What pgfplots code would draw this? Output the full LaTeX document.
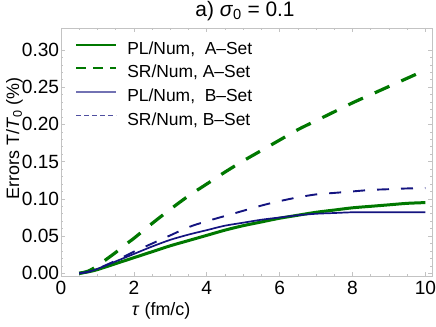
\documentclass[border=0pt]{standalone}
\usepackage{fontspec}
\setmainfont{Liberation Sans}
\usepackage{pgfplots}
\pgfplotsset{compat=1.18}
\definecolor{mgreen}{RGB}{0,120,0}
\definecolor{mblue}{RGB}{20,20,128}
\definecolor{framegray}{RGB}{195,195,195}

\begin{document}
\begin{tikzpicture}
\begin{axis}[
    scale only axis,
    width=371bp, height=248bp,
    xmin=0, xmax=10.18,
    ymin=-0.0036, ymax=0.3295,
    xtick={0,2,4,6,8,10},
    ytick={0,0.05,0.10,0.15,0.20,0.25,0.30},
    minor x tick num=3,
    minor y tick num=4,
    tick align=inside,
    tick pos=both,
    major tick length=4bp,
    minor tick length=2.5bp,
    axis line style={draw=framegray, line width=0.9bp},
    tick style={draw=framegray, line width=0.7bp},
    /pgf/number format/assume math mode=true,
    ticklabel style={font=\fontsize{19.2}{22}\selectfont},
    xticklabel style={inner sep=0bp, yshift=-5bp},
    yticklabel style={inner sep=1.7bp,
        /pgf/number format/.cd, fixed, fixed zerofill, precision=2},
    title={a) \textit{σ}\textsubscript{0} = 0.1},
    title style={at={(axis description cs:0.496,1.024)}, anchor=base,
        font=\fontsize{21}{24}\selectfont},
    xlabel={\textit{τ} (fm/c)},
    xlabel style={at={(axis description cs:0.27,-0.161)}, anchor=base,
        font=\fontsize{18}{21}\selectfont},
    ylabel={Errors T/\textit{T}\textsubscript{0} (\%)},
    ylabel style={at={(axis description cs:-0.113,0.554)}, anchor=base,
        font=\fontsize{18}{21}\selectfont},
    legend cell align=left,
    legend image code/.code={\draw[#1] (0bp,5bp) -- (40bp,5bp);},
    legend style={draw=none, fill=none, inner sep=0bp,
        at={(axis description cs:0.038,0.9435)}, anchor=north west,
        font=\fontsize{17.5}{20}\selectfont,
        nodes={inner sep=0bp, text height=12bp, text depth=3bp},
        row sep=8.6bp, column sep=10bp},
]
\addlegendimage{mgreen, line width=1.6bp}
\addlegendimage{mgreen, line width=2bp, dash pattern=on 10bp off 7bp}
\addlegendimage{mblue!60!white, line width=2bp}
\addlegendimage{mblue!75!white, line width=0.9bp, dash pattern=on 5bp off 3bp}

% PL/Num, A-Set
\addplot[mgreen, line width=3bp, smooth] coordinates {
    (0.5,0) (0.75,0.002) (1,0.005) (1.5,0.013) (2,0.021) (2.5,0.029)
    (3,0.037) (3.5,0.044) (4,0.051) (4.5,0.058) (5,0.064) (5.5,0.069)
    (6,0.074) (6.5,0.078) (7,0.082) (7.5,0.085) (8,0.088) (8.5,0.090)
    (9,0.092) (9.5,0.094) (10,0.095)
};
% SR/Num, A-Set
\addplot[mgreen, line width=3.2bp, dash pattern=on 16bp off 13bp, smooth] coordinates {
    (0.5,0) (0.75,0.003) (1,0.010) (1.25,0.019) (1.5,0.028) (1.75,0.038)
    (2,0.047) (2.5,0.067) (3,0.086) (3.5,0.104) (4,0.120) (4.5,0.136)
    (5,0.151) (5.5,0.165) (6,0.179) (6.5,0.193) (7,0.205) (7.5,0.217)
    (8,0.229) (8.5,0.240) (9,0.251) (9.5,0.262) (10,0.273)
};
% PL/Num, B-Set
\addplot[mblue, line width=1.7bp, smooth] coordinates {
    (0.5,0) (0.75,0.002) (1,0.006) (1.5,0.016) (2,0.026) (2.5,0.036)
    (3,0.045) (3.5,0.052) (4,0.058) (4.5,0.064) (5,0.068) (5.5,0.072)
    (6,0.075) (6.5,0.078) (7,0.080) (7.5,0.081) (8,0.082) (8.5,0.082)
    (9,0.082) (9.5,0.082) (10,0.082)
};
% SR/Num, B-Set
\addplot[mblue, line width=1.9bp, dash pattern=on 12bp off 12bp, smooth] coordinates {
    (0.5,0) (0.75,0.002) (1,0.006) (1.5,0.017) (2,0.029) (2.5,0.040)
    (3,0.051) (3.5,0.062) (4,0.070) (4.5,0.077) (5,0.084) (5.5,0.091)
    (6,0.097) (6.5,0.102) (7,0.106) (7.5,0.108) (8,0.110) (8.5,0.112)
    (9,0.113) (9.5,0.114) (10,0.1145)
};
\legend{{PL/Num,\ \ A--Set}, {SR/Num, A--Set}, {PL/Num,\ \ B--Set}, {SR/Num, B--Set}}
\end{axis}
\pgfresetboundingbox
\path (-61bp,-51bp) rectangle (375bp,276bp);
\end{tikzpicture}
\end{document}
